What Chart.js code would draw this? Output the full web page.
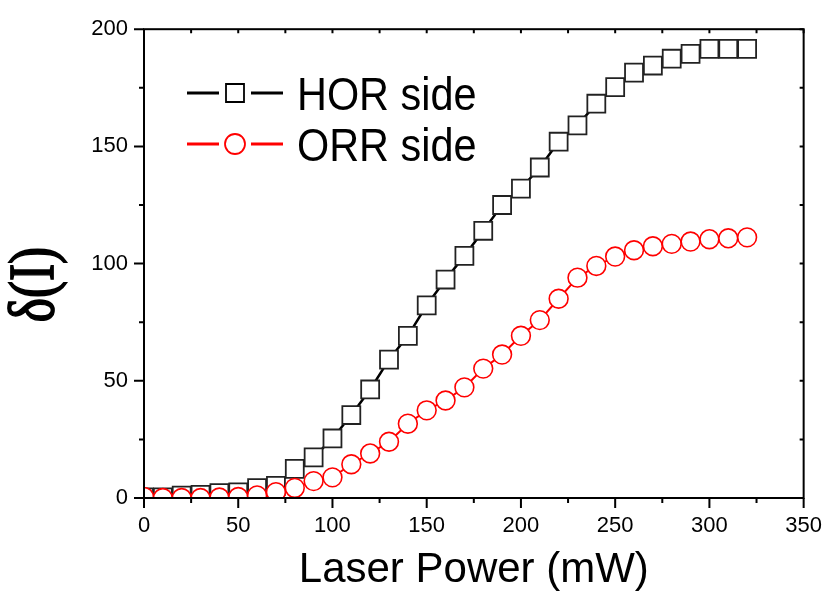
<!DOCTYPE html>
<html>
<head>
<meta charset="utf-8">
<script src="https://cdn.jsdelivr.net/npm/chart.js@4.4.1/dist/chart.umd.min.js"></script>
<style>
  body { margin: 0; background: #fff; }
</style>
</head>
<body>
<canvas id="powerChart" width="837" height="599"></canvas>
<script>
// laser power (mW)
const power = [0, 10, 20, 30, 40, 50, 60, 70, 80, 90, 100, 110, 120, 130, 140, 150, 160,
    170, 180, 190, 200, 210, 220, 230, 240, 250, 260, 270, 280, 290, 300, 310, 320];
// delta(I) values
const horSide = [0.3, 0.3, 1, 1.3, 2.1, 2.4, 4.2, 5.2, 12.4, 17.3, 25.4, 35.4, 46.3, 59, 69.2,
    82.2, 93.2, 103.3, 114, 125, 132, 141, 152, 159, 168.2, 175.3, 181.5, 184.5, 187.4,
    189.5, 191.6, 191.6, 191.6];
const orrSide = [0.5, 0, 0, 0, 0.2, 0.4, 1.1, 2.5, 4.3, 7.2, 8.8, 14.4, 19, 24, 31.7, 37.4,
    41.6, 47.2, 55.2, 61.2, 69.2, 75.9, 85, 94, 99, 103, 105.7, 107.4, 108.4, 109.4,
    110.4, 110.8, 111.2];
const seriesNames = ['HOR side', 'ORR side'];
const yTitle = 'δ(I)';
const xMax = 350, xStep = 50;
const yMax = 200, yStep = 50;

const sans = "'Liberation Sans', Arial, sans-serif";
const serif = "'Liberation Serif', 'Times New Roman', serif";

const toPoints = (vals) => power.map((p, i) => ({x: p, y: vals[i]}));

// box around the plot + major/minor ticks (outside on left/bottom, inside on top/right)
const frameTicks = {
    id: 'frameTicks',
    afterDatasetsDraw(chart) {
        const {ctx, chartArea: a, scales: {x, y}} = chart;
        ctx.save();
        ctx.strokeStyle = '#000';
        ctx.lineWidth = 2;
        ctx.strokeRect(a.left, a.top, a.right - a.left, a.bottom - a.top);
        ctx.beginPath();
        for (let v = 0; v <= xMax; v += xStep / 2) {
            const px = x.getPixelForValue(v);
            const len = v % xStep === 0 ? 10 : 5;
            ctx.moveTo(px, a.bottom); ctx.lineTo(px, a.bottom + len);
            ctx.moveTo(px, a.top); ctx.lineTo(px, a.top + 4);
        }
        for (let v = 0; v <= yMax; v += yStep / 2) {
            const py = y.getPixelForValue(v);
            const len = v % yStep === 0 ? 10 : 5;
            ctx.moveTo(a.left, py); ctx.lineTo(a.left - len, py);
            ctx.moveTo(a.right, py); ctx.lineTo(a.right - 4, py);
        }
        ctx.stroke();
        ctx.restore();
    }
};

// legend inside the plot (line - marker - line, then label) and the y title
const insideLegend = {
    id: 'insideLegend',
    afterDraw(chart) {
        const ctx = chart.ctx;
        const order = [1, 0];
        order.forEach((di, row) => {
            const ds = chart.data.datasets[di];
            const ly = 93 + row * 51;
            ctx.save();
            ctx.strokeStyle = ds.borderColor;
            ctx.lineWidth = 3;
            ctx.beginPath();
            ctx.moveTo(187, ly); ctx.lineTo(219, ly);
            ctx.moveTo(251, ly); ctx.lineTo(283, ly);
            ctx.stroke();
            ctx.lineWidth = 1.8;
            ctx.fillStyle = '#fff';
            ctx.beginPath();
            if (ds.pointStyle === 'rect') {
                ctx.rect(226, ly - 9, 18, 18);
            } else {
                ctx.arc(235, ly, 10, 0, Math.PI * 2);
            }
            ctx.fill();
            ctx.stroke();
            ctx.fillStyle = '#000';
            ctx.font = '46px ' + sans;
            ctx.textBaseline = 'alphabetic';
            ctx.translate(297, ly + 16.5);
            ctx.scale(0.9, 1);
            ctx.fillText(ds.label, 0, 0);
            ctx.restore();
        });

        // y axis title, rotated, reads bottom to top
        const y = chart.scales.y;
        ctx.save();
        ctx.translate(36, (y.top + y.bottom) / 2 + 21);
        ctx.rotate(-Math.PI / 2);
        ctx.scale(0.8, 1);
        ctx.font = '64px ' + serif;
        ctx.textAlign = 'center';
        ctx.textBaseline = 'middle';
        ctx.fillStyle = '#000';
        ctx.strokeStyle = '#000';
        ctx.lineWidth = 1.8;
        ctx.fillText(yTitle, 0, 0);
        ctx.strokeText(yTitle, 0, 0);
        ctx.restore();
    }
};

const ctxPower = document.getElementById('powerChart').getContext('2d');
const powerChart = new Chart(ctxPower, {
    type: 'line',
    data: {
        datasets: [{
            label: seriesNames[1],
            data: toPoints(orrSide),
            borderColor: '#ff0000',
            borderWidth: 2,
            pointStyle: 'circle',
            pointRadius: 9.4,
            pointBorderWidth: 1.6,
            pointBorderColor: '#ff0000',
            pointBackgroundColor: '#fff',
            order: 0
        }, {
            label: seriesNames[0],
            data: toPoints(horSide),
            borderColor: '#000',
            borderWidth: 2.5,
            pointStyle: 'rect',
            pointRadius: 12.7,
            pointBorderWidth: 1.8,
            pointBorderColor: '#222',
            pointBackgroundColor: '#fff',
            order: 1
        }]
    },
    options: {
        responsive: false,
        animation: false,
        devicePixelRatio: 1,
        layout: {padding: {top: 21, right: 21, left: 0, bottom: 0}},
        plugins: {
            legend: {display: false},
            tooltip: {enabled: false}
        },
        scales: {
            x: {
                type: 'linear',
                min: 0,
                max: xMax,
                grid: {display: false, drawTicks: false},
                border: {display: false},
                ticks: {stepSize: xStep, color: '#000', padding: 15, maxRotation: 0,
                    font: {family: sans, size: 22}},
                title: {display: true, text: 'Laser Power (mW)', color: '#000',
                    font: {family: sans, size: 42, lineHeight: 1},
                    padding: {top: 0, bottom: 8}},
                afterFit(scale) { scale.height = 101; }
            },
            y: {
                min: 0,
                max: yMax,
                grid: {display: false, drawTicks: false},
                border: {display: false},
                ticks: {stepSize: yStep, color: '#000', padding: 16,
                    font: {family: sans, size: 22}},
                title: {display: false, text: yTitle},
                afterFit(scale) { scale.width = 144; }
            }
        }
    },
    plugins: [frameTicks, insideLegend]
});
</script>
</body>
</html>
